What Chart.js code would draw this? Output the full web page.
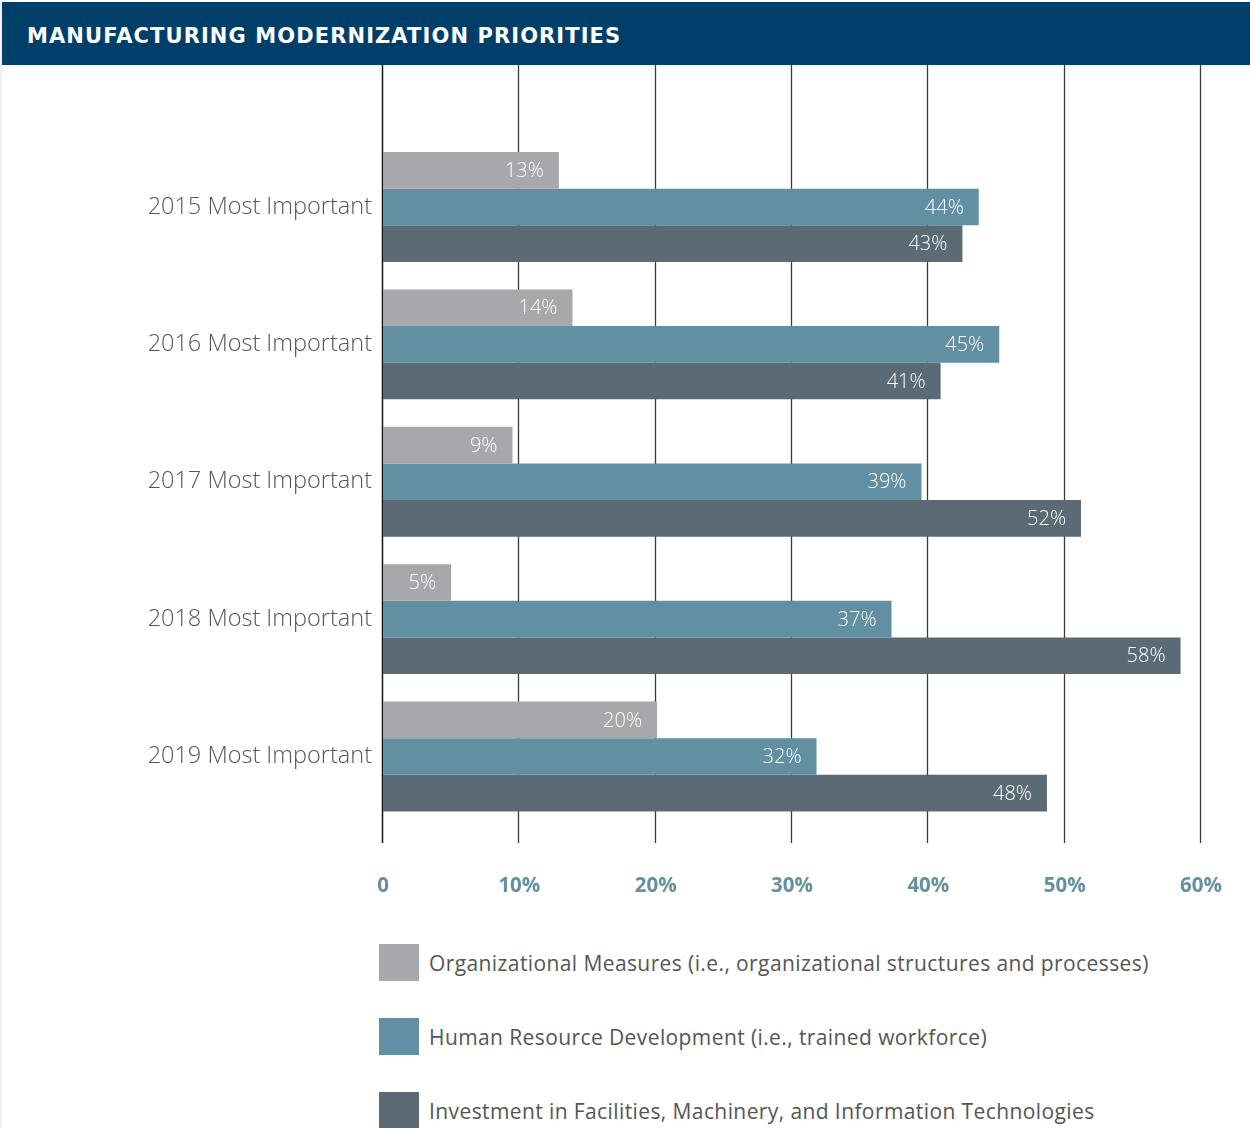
<!DOCTYPE html>
<html>
<head>
<meta charset="utf-8">
<script src="https://cdn.jsdelivr.net/npm/chart.js@4.4.1/dist/chart.umd.min.js"></script>
<style>
  html, body { margin: 0; padding: 0; background: #fff; }
  body { width: 1250px; height: 1128px; position: relative; overflow: hidden; font-family: "Open Sans", Lato, sans-serif; border-left: 2px solid #f2f2f2; box-sizing: border-box; }
  #header { position: absolute; left: 0; top: 2px; width: 1248px; height: 63px; background: #003f6a; color: #fff; font-family: "DejaVu Sans", sans-serif; font-weight: 700; font-size: 21px; letter-spacing: 1.1px; line-height: 63px; padding: 3px 0 0 25px; box-sizing: border-box; }
  #wrap { position: absolute; left: -2px; top: 65px; width: 1250px; height: 850px; }
  #legend { position: absolute; left: 377px; top: 944px; }
  .item { height: 37px; margin-bottom: 37px; display: flex; align-items: center; }
  .box { width: 40px; height: 37px; margin-right: 10px; }
  .lbl { font-size: 21px; color: #555; letter-spacing: 0.4px; }
</style>
</head>
<body>
<div id="header">MANUFACTURING MODERNIZATION PRIORITIES</div>
<div id="wrap"><canvas id="chart"></canvas></div>
<div id="legend"></div>
<script>
const categories = ['2015 Most Important', '2016 Most Important', '2017 Most Important', '2018 Most Important', '2019 Most Important'];
const seriesNames = [
  'Organizational Measures (i.e., organizational structures and processes)',
  'Human Resource Development (i.e., trained workforce)',
  'Investment in Facilities, Machinery, and Information Technologies'
];
const seriesColors = ['#a7a8ab', '#6290a2', '#5a6b75'];
// bar lengths as measured, labels as printed
const organizational = [12.9, 13.9, 9.5, 5.0, 20.1];
const humanResource = [43.7, 45.2, 39.5, 37.3, 31.8];
const investment = [42.5, 40.9, 51.2, 58.5, 48.7];
const organizationalLabels = ['13%', '14%', '9%', '5%', '20%'];
const humanResourceLabels = ['44%', '45%', '39%', '37%', '32%'];
const investmentLabels = ['43%', '41%', '52%', '58%', '48%'];
const xTicks = ['0', '10%', '20%', '30%', '40%', '50%', '60%'];

const values = [organizational, humanResource, investment];
const valueLabels = [organizationalLabels, humanResourceLabels, investmentLabels];

const gridPlugin = {
  id: 'fullGrid',
  beforeDatasetsDraw(chart) {
    const ctx = chart.ctx, x = chart.scales.x;
    ctx.save();
    for (let v = 0; v <= 60; v += 10) {
      const px = Math.round(x.getPixelForValue(v)) - 0.5;
      ctx.strokeStyle = v === 0 ? '#111' : '#3a3a3a';
      ctx.lineWidth = v === 0 ? 1.5 : 1.3;
      ctx.beginPath();
      ctx.moveTo(px, 0);
      ctx.lineTo(px, 778);
      ctx.stroke();
    }
    ctx.restore();
  }
};

const labelPlugin = {
  id: 'barLabels',
  afterDatasetsDraw(chart) {
    const ctx = chart.ctx;
    ctx.save();
    ctx.fillStyle = '#fff';
    ctx.font = '300 20px "Open Sans", Lato, sans-serif';
    ctx.textAlign = 'right';
    ctx.textBaseline = 'middle';
    chart.data.datasets.forEach((ds, i) => {
      chart.getDatasetMeta(i).data.forEach((bar, j) => {
        ctx.fillText(valueLabels[i][j], bar.x - 15, bar.y + 1);
      });
    });
    ctx.restore();
  }
};

new Chart(document.getElementById('chart'), {
  type: 'bar',
  data: {
    labels: categories,
    datasets: seriesNames.map((name, i) => ({
      label: name,
      data: values[i],
      backgroundColor: seriesColors[i],
      categoryPercentage: 0.8,
      barPercentage: 1.0
    }))
  },
  options: {
    indexAxis: 'y',
    responsive: true,
    maintainAspectRatio: false,
    animation: false,
    layout: { padding: { top: 73.3, right: 49, left: 0, bottom: 0 } },
    plugins: { legend: { display: false }, tooltip: { enabled: false } },
    scales: {
      x: {
        min: 0, max: 60,
        grid: { display: false },
        border: { display: false },
        afterFit(scale) {
          scale.height = 89.8;
          scale.paddingLeft = 0;
          scale.paddingRight = 0;
        },
        ticks: {
          stepSize: 10,
          padding: 41,
          color: '#6590a0',
          font: { family: '"Open Sans", Lato, sans-serif', size: 20.5, weight: 'bold' },
          callback: (v) => xTicks[v / 10]
        }
      },
      y: {
        grid: { display: false, drawTicks: false },
        border: { display: false },
        afterFit(scale) { scale.width = 383; },
        ticks: {
          padding: 11,
          color: '#555',
          font: { family: '"Open Sans", Lato, sans-serif', size: 23.5, weight: '300' }
        }
      }
    }
  },
  plugins: [gridPlugin, labelPlugin]
});

const legend = document.getElementById('legend');
seriesNames.forEach((name, i) => {
  const item = document.createElement('div');
  item.className = 'item';
  item.innerHTML = '<div class="box" style="background:' + seriesColors[i] + '"></div><span class="lbl"></span>';
  item.querySelector('.lbl').textContent = name;
  legend.appendChild(item);
});
</script>
</body>
</html>
